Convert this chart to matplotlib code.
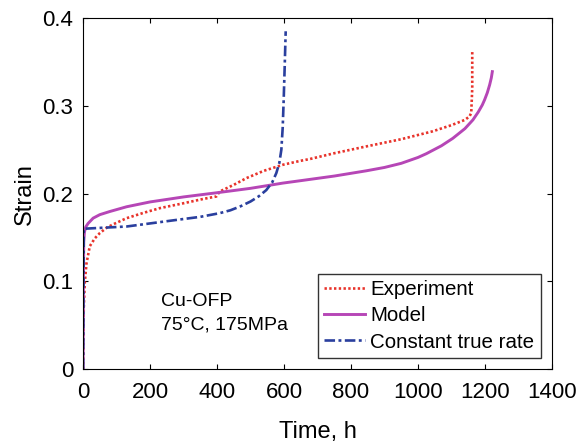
import numpy as np
import matplotlib
matplotlib.use('Agg')
import matplotlib.pyplot as plt

plt.rcParams['font.family'] = ['Liberation Sans', 'DejaVu Sans']

# Experiment (red dotted)
exp_t = [0, 1, 2, 5, 10, 20, 35, 50, 70, 90, 130, 180, 229, 300, 360, 398, 408, 450, 488, 540, 597,
         647, 677, 750, 846, 950, 1044, 1100, 1140, 1154, 1159, 1162, 1162]
exp_s = [0, 0.04, 0.07, 0.098, 0.12, 0.14, 0.149, 0.155, 0.161, 0.165, 0.172, 0.178, 0.1834, 0.189,
         0.194, 0.1967, 0.2024, 0.210, 0.2177, 0.226, 0.2329, 0.2372, 0.2394, 0.246, 0.2538, 0.262,
         0.271, 0.278, 0.284, 0.288, 0.292, 0.320, 0.362]

# Model (magenta solid)
mod_t = [0, 1, 2, 4, 8, 15, 30, 50, 80, 130, 200, 300, 398, 500, 597, 647, 750, 846, 900, 950,
         1000, 1025, 1070, 1104, 1140, 1164, 1180, 1192, 1199, 1207, 1214, 1219, 1222]
mod_s = [0, 0.10, 0.145, 0.156, 0.162, 0.166, 0.172, 0.176, 0.1796, 0.185, 0.1905, 0.1962, 0.2009,
         0.206, 0.212, 0.2146, 0.220, 0.226, 0.2298, 0.2345, 0.2412, 0.2455, 0.2545, 0.263, 0.274,
         0.284, 0.293, 0.301, 0.307, 0.315, 0.324, 0.332, 0.339]

# Constant true rate (blue dash-dot)
ctr_t = [0, 2, 5, 30, 130, 200, 279, 350, 408, 440, 470, 500, 525, 547, 565, 577, 586, 592, 596,
         599, 602, 605]
ctr_s = [0, 0.16, 0.16, 0.1605, 0.1625, 0.166, 0.170, 0.1735, 0.1777, 0.181, 0.1855, 0.191, 0.197,
         0.204, 0.213, 0.2234, 0.235, 0.25, 0.275, 0.307, 0.345, 0.385]

x_ticks = [0, 200, 400, 600, 800, 1000, 1200, 1400]
y_ticks = [0, 0.1, 0.2, 0.3, 0.4]
y_tick_labels = ['0', '0.1', '0.2', '0.3', '0.4']

fig = plt.figure(figsize=(5.81, 4.42), dpi=100)
ax = fig.add_axes([0.143, 0.165, 0.807, 0.794])

ax.plot(exp_t, exp_s, color='#e8332b', lw=1.9, dashes=(0.9, 0.9), label='Experiment')
ax.plot(mod_t, mod_s, color='#b646b6', linestyle='-', lw=2.1, label='Model')
ax.plot(ctr_t, ctr_s, color='#2a3f9e', lw=1.9, dashes=(4.0, 1.3, 1.1, 1.3),
        label='Constant true rate')

ax.set_xlim(0, 1400)
ax.set_ylim(0, 0.4)
ax.set_xticks(x_ticks)
ax.set_yticks(y_ticks)
ax.set_yticklabels(y_tick_labels)
ax.tick_params(direction='in', top=True, right=True, labelsize=16, length=3.6)
ax.tick_params(axis='x', pad=9.5)
ax.tick_params(axis='y', pad=7)
ax.set_xlabel('Time, h', fontsize=17, labelpad=13)
ax.set_ylabel('Strain', fontsize=17, labelpad=5)

ax.text(234, 0.077, 'Cu-OFP', fontsize=14, va='center')
ax.text(234, 0.05, '75\u00b0C, 175MPa', fontsize=14, va='center')

leg = ax.legend(loc='lower right', fontsize=14.8, frameon=True, fancybox=False,
                edgecolor='black', handlelength=2.0, handletextpad=0.25,
                borderpad=0.3, labelspacing=0.35, borderaxespad=0.55)
leg.get_frame().set_linewidth(1.0)

fig.savefig('out.png', dpi=100)
